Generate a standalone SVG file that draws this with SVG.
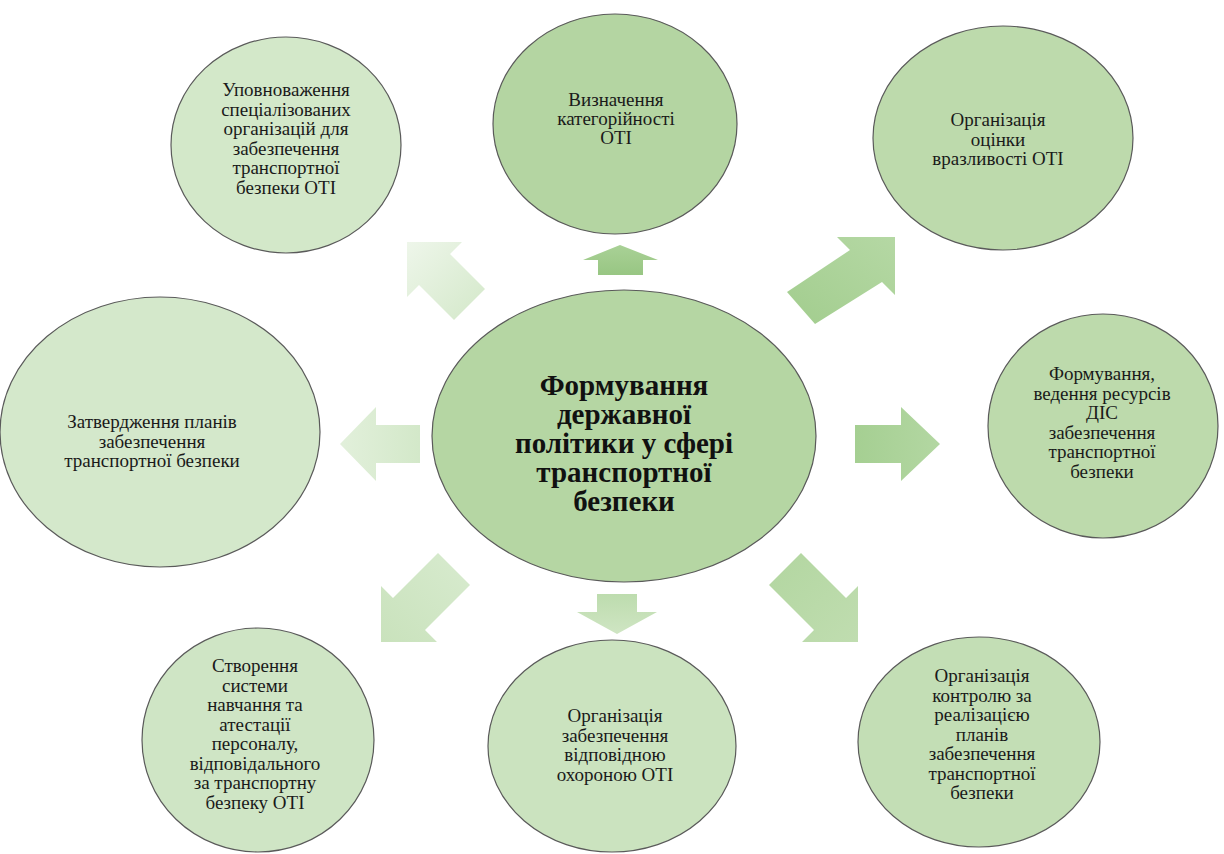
<svg xmlns="http://www.w3.org/2000/svg" width="1224" height="854" viewBox="0 0 1224 854">
  <style>
    .node { stroke: #5a5a5a; stroke-width: 1.2; }
    .lbl { font-family: "Liberation Serif", "Times New Roman", serif; font-size: 19px; fill: #1a1a1a; text-anchor: middle; }
    .main { font-family: "Liberation Serif", "Times New Roman", serif; font-size: 29px; font-weight: bold; fill: #111; text-anchor: middle; }
  </style>
  <defs>
    <linearGradient id="gN" x1="0" y1="0" x2="0" y2="1"><stop offset="0" stop-color="#a9d196"/><stop offset="1" stop-color="#98c683"/></linearGradient>
    <linearGradient id="gNE" x1="1" y1="0" x2="0" y2="1"><stop offset="0" stop-color="#b5d8a4"/><stop offset="1" stop-color="#a2cd8e"/></linearGradient>
    <linearGradient id="gE" x1="1" y1="0" x2="0" y2="0"><stop offset="0" stop-color="#b3d7a2"/><stop offset="1" stop-color="#a5cf92"/></linearGradient>
    <linearGradient id="gSE" x1="1" y1="1" x2="0" y2="0"><stop offset="0" stop-color="#c0ddb0"/><stop offset="1" stop-color="#b2d6a0"/></linearGradient>
    <linearGradient id="gS" x1="0" y1="1" x2="0" y2="0"><stop offset="0" stop-color="#cfe5c3"/><stop offset="1" stop-color="#bddcae"/></linearGradient>
    <linearGradient id="gSW" x1="0" y1="1" x2="1" y2="0"><stop offset="0" stop-color="#c9e2bc"/><stop offset="1" stop-color="#d8ebcf"/></linearGradient>
    <linearGradient id="gW" x1="0" y1="0" x2="1" y2="0"><stop offset="0" stop-color="#e2f0db"/><stop offset="1" stop-color="#d3e8c9"/></linearGradient>
    <linearGradient id="gNW" x1="0" y1="0" x2="1" y2="1"><stop offset="0" stop-color="#eef6ea"/><stop offset="1" stop-color="#d3e8c9"/></linearGradient>
  </defs>

  <!-- block arrows radiating from the central ellipse -->
  <g id="connectors">
    <polygon fill="url(#gN)" points="620,245 658,260 643,260 643,275 598,275 598,260 583,260"/>
    <polygon fill="url(#gNE)" points="895,237 895,295 882,282 815,324 787,292 850,250 837,237"/>
    <polygon fill="url(#gE)" points="940,444 901,407 901,425 855,425 855,463 901,463 901,481"/>
    <polygon fill="url(#gSE)" points="858,642 858,586 846,598 801,553 769,585 814,630 802,642"/>
    <polygon fill="url(#gS)" points="617,634 657,612 637,612 637,594 597,594 597,612 577,612"/>
    <polygon fill="url(#gSW)" points="381,642 381,586 393,598 438,553 470,585 425,630 437,642"/>
    <polygon fill="url(#gW)" points="340,444 376,407 376,425 420,425 420,463 376,463 376,481"/>
    <polygon fill="url(#gNW)" points="407,242 462,242 450,254 485,289 454,320 419,285 407,297"/>
  </g>

  <g id="node-center">
    <ellipse class="node" cx="624" cy="436" rx="192" ry="146" fill="#b5d6a3"/>
    <text class="main" x="624" y="395">Формування</text>
    <text class="main" x="624" y="424">державної</text>
    <text class="main" x="624" y="453">політики у сфері</text>
    <text class="main" x="624" y="482">транспортної</text>
    <text class="main" x="624" y="511">безпеки</text>
  </g>

  <g id="node-nw">
    <ellipse class="node" cx="286" cy="145" rx="115" ry="108" fill="#d3e8c9"/>
    <text class="lbl" x="286" y="96">Уповноваження</text>
    <text class="lbl" x="286" y="115.5">спеціалізованих</text>
    <text class="lbl" x="286" y="135">організацій для</text>
    <text class="lbl" x="286" y="154.5">забезпечення</text>
    <text class="lbl" x="286" y="174">транспортної</text>
    <text class="lbl" x="286" y="193.5">безпеки ОТІ</text>
  </g>

  <g id="node-n">
    <ellipse class="node" cx="615" cy="124" rx="122" ry="110" fill="#b4d5a2"/>
    <text class="lbl" x="616" y="106">Визначення</text>
    <text class="lbl" x="616" y="125">категорійності</text>
    <text class="lbl" x="616" y="144">ОТІ</text>
  </g>

  <g id="node-ne">
    <ellipse class="node" cx="1003" cy="138" rx="130" ry="112" fill="#bddaac"/>
    <text class="lbl" x="998" y="126">Організація</text>
    <text class="lbl" x="998" y="145.5">оцінки</text>
    <text class="lbl" x="998" y="165">вразливості ОТІ</text>
  </g>

  <g id="node-w">
    <ellipse class="node" cx="160" cy="432" rx="160" ry="135" fill="#d4e8cb"/>
    <text class="lbl" x="152" y="428">Затвердження планів</text>
    <text class="lbl" x="152" y="447.5">забезпечення</text>
    <text class="lbl" x="152" y="467">транспортної безпеки</text>
  </g>

  <g id="node-e">
    <ellipse class="node" cx="1103" cy="426" rx="115" ry="112" fill="#bddaac"/>
    <text class="lbl" x="1102" y="380">Формування,</text>
    <text class="lbl" x="1102" y="399.5">ведення ресурсів</text>
    <text class="lbl" x="1102" y="419">ДІС</text>
    <text class="lbl" x="1102" y="438.5">забезпечення</text>
    <text class="lbl" x="1102" y="458">транспортної</text>
    <text class="lbl" x="1102" y="477.5">безпеки</text>
  </g>

  <g id="node-sw">
    <ellipse class="node" cx="258" cy="740" rx="116" ry="112" fill="#cfe5c5"/>
    <text class="lbl" x="255" y="672">Створення</text>
    <text class="lbl" x="255" y="691.5">системи</text>
    <text class="lbl" x="255" y="711">навчання та</text>
    <text class="lbl" x="255" y="730.5">атестації</text>
    <text class="lbl" x="255" y="750">персоналу,</text>
    <text class="lbl" x="255" y="769.5">відповідального</text>
    <text class="lbl" x="255" y="789">за транспортну</text>
    <text class="lbl" x="255" y="808.5">безпеку ОТІ</text>
  </g>

  <g id="node-s">
    <ellipse class="node" cx="612" cy="746" rx="124" ry="106" fill="#cbe3bf"/>
    <text class="lbl" x="615" y="722">Організація</text>
    <text class="lbl" x="615" y="741.5">забезпечення</text>
    <text class="lbl" x="615" y="761">відповідною</text>
    <text class="lbl" x="615" y="780.5">охороною ОТІ</text>
  </g>

  <g id="node-se">
    <ellipse class="node" cx="979" cy="742" rx="121" ry="105" fill="#c3deb5"/>
    <text class="lbl" x="982" y="682">Організація</text>
    <text class="lbl" x="982" y="701.5">контролю за</text>
    <text class="lbl" x="982" y="721">реалізацією</text>
    <text class="lbl" x="982" y="740.5">планів</text>
    <text class="lbl" x="982" y="760">забезпечення</text>
    <text class="lbl" x="982" y="779.5">транспортної</text>
    <text class="lbl" x="982" y="799">безпеки</text>
  </g>
</svg>
